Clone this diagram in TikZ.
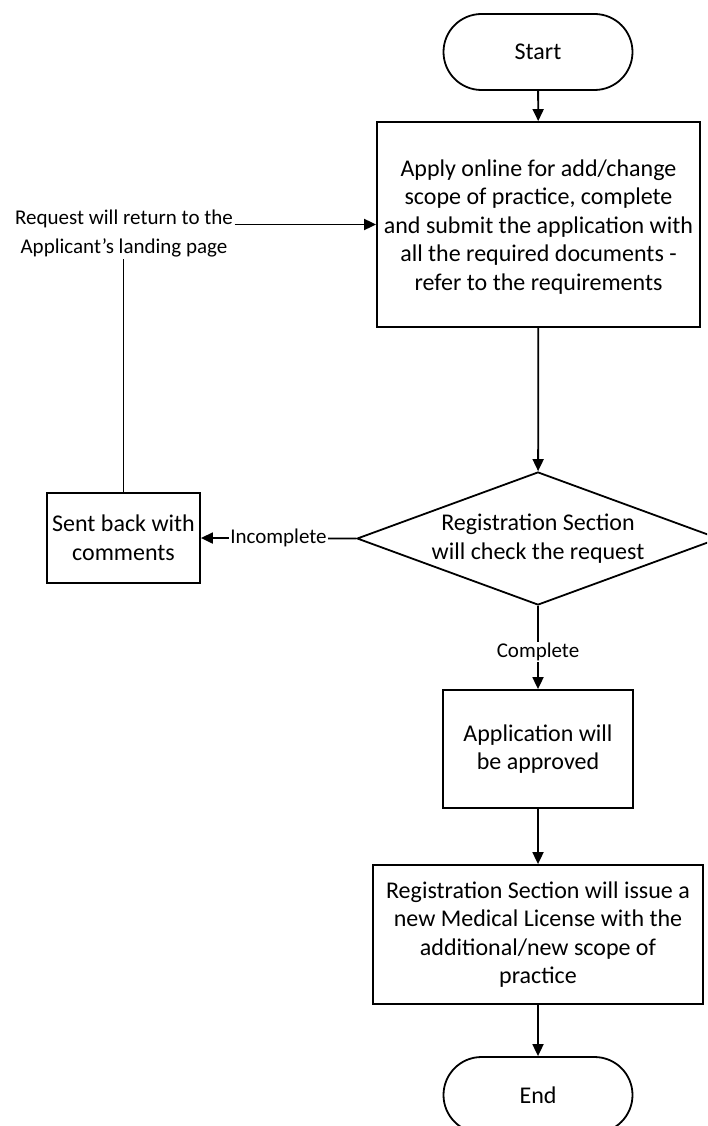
\documentclass[tikz,border=0pt]{standalone}
\usepackage{fontspec}
\setmainfont{Carlito}
\usetikzlibrary{shapes.geometric,arrows.meta}
\begin{document}
\begin{tikzpicture}[x=1pt,y=-1pt,line width=1.8pt,
  >={Triangle[length=12pt,width=11pt]},
  txt/.style={font=\fontsize{24}{28.5}\selectfont,align=center},
  lbl/.style={font=\fontsize{21}{24}\selectfont,fill=white,inner sep=1pt},
  proc/.style={draw,rectangle,txt,inner sep=0pt},
  term/.style={draw,rectangle,rounded corners=38pt,txt,minimum width=189pt,minimum height=76pt,inner sep=0pt}]
\useasboundingbox (0,0) rectangle (707,1126);
\clip (0,0) rectangle (707,1126);
\fill[white] (0,0) rectangle (707,1126);
\node[term] (start) at (538,52) {Start};
\node[proc,minimum width=323pt,minimum height=205pt] (box1) at (538.5,224.5) {};
\node[txt] at (538.5,227)
  {Apply online for add/change\\scope of practice, complete\\and submit the application with\\all the required documents -\\refer to the requirements};
\node[draw,diamond,minimum width=362pt,minimum height=133pt,inner sep=0pt] (dia) at (538,538.5) {};
\node[txt] at (dia) {Registration Section\\will check the request};
\node[proc,minimum width=153pt,minimum height=90pt] (sent) at (123.5,538) {Sent back with\\comments};
\node[font=\fontsize{21}{29}\selectfont,align=center,inner sep=1pt] (ret) at (124,234) {Request will return to the\\Applicant’s landing page};
\node[proc,minimum width=190pt,minimum height=118pt] (app) at (538,749) {Application will\\be approved};
\node[proc,minimum width=330pt,minimum height=139pt] (lic) at (538,934.5)
  {Registration Section will issue a\\new Medical License with the\\additional/new scope of\\practice};
\node[term] (end) at (538,1095) {End};
\draw[->] (start) -- (box1);
\draw[->] (box1) -- (dia);
\draw[->] (dia.west) -- node[lbl] {Incomplete} (sent.east);
\draw (sent.north) -- (sent.north |- ret.south);
\draw[->] (ret.east |- box1.west) -- (box1.west);
\draw[->] (dia.south) -- node[lbl,pos=0.55] {Complete} (app.north);
\draw[->] (app) -- (lic);
\draw[->] (lic) -- (end);
\end{tikzpicture}
\end{document}
